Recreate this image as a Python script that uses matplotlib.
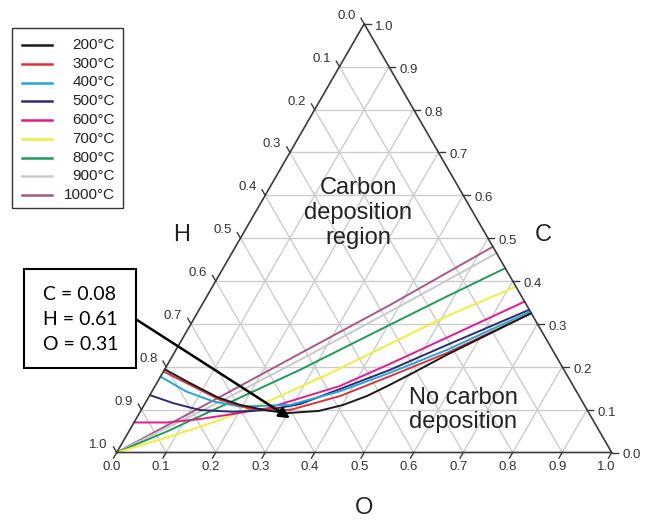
import matplotlib.pyplot as plt
import numpy as np
from matplotlib.patches import Rectangle

plt.rcParams['font.family'] = ['Liberation Sans', 'DejaVu Sans']

# temperature series, each point given as (C, O) fractions; H = 1 - C - O
labels = ['200°C', '300°C', '400°C', '500°C', '600°C', '700°C', '800°C', '900°C', '1000°C']
colors = ['#1a1a1a', '#d8353f', '#22a6d6', '#2e2a78', '#e31b8c', '#f0ee3a', '#1f9a5c', '#c9c9c9', '#a45a88']

c_200 = [0.194, 0.162, 0.128, 0.111, 0.098, 0.092, 0.097, 0.111, 0.132, 0.158, 0.186, 0.228, 0.325]
o_200 = [0.000, 0.067, 0.141, 0.194, 0.254, 0.300, 0.360, 0.402, 0.440, 0.473, 0.506, 0.553, 0.675]
c_300 = [0.189, 0.158, 0.123, 0.102, 0.099, 0.132, 0.178, 0.232, 0.325]
o_300 = [0.000, 0.069, 0.147, 0.218, 0.300, 0.386, 0.463, 0.551, 0.675]
c_400 = [0.177, 0.142, 0.119, 0.107, 0.111, 0.143, 0.186, 0.239, 0.329]
o_400 = [0.000, 0.070, 0.136, 0.196, 0.295, 0.380, 0.459, 0.547, 0.671]
c_500 = [0.134, 0.115, 0.099, 0.095, 0.099, 0.113, 0.148, 0.193, 0.251, 0.333]
o_500 = [0.000, 0.057, 0.119, 0.188, 0.254, 0.314, 0.377, 0.456, 0.542, 0.667]
c_600 = [0.070, 0.070, 0.078, 0.090, 0.103, 0.155, 0.207, 0.268, 0.352]
o_600 = [0.000, 0.066, 0.129, 0.191, 0.252, 0.373, 0.449, 0.533, 0.648]
c_700 = [0.000, 0.035, 0.073, 0.118, 0.179, 0.253, 0.318, 0.387]
o_700 = [0.000, 0.084, 0.165, 0.244, 0.331, 0.425, 0.508, 0.613]
c_800 = [0.000, 0.049, 0.103, 0.193, 0.298, 0.364, 0.430]
o_800 = [0.000, 0.077, 0.151, 0.274, 0.403, 0.485, 0.570]
c_900 = [0.000, 0.118, 0.216, 0.329, 0.465]
o_900 = [0.000, 0.149, 0.262, 0.388, 0.535]
c_1000 = [0.000, 0.130, 0.231, 0.344, 0.480]
o_1000 = [0.000, 0.144, 0.255, 0.380, 0.520]

c_series = [c_200, c_300, c_400, c_500, c_600, c_700, c_800, c_900, c_1000]
o_series = [o_200, o_300, o_400, o_500, o_600, o_700, o_800, o_900, o_1000]

ticks = np.round(np.arange(0, 1.01, 0.1), 1)
marked = {'C': 0.08, 'H': 0.61, 'O': 0.31}

S = np.sqrt(3) / 2
SC = 495.0  # pixels per unit side
X0, Y0 = 116.7, 452.5  # pixel position of the H vertex


def tern(c, o):
    c = np.asarray(c, dtype=float)
    o = np.asarray(o, dtype=float)
    return o + c / 2, c * S


def px(x, y):
    return (x - X0) / SC, (Y0 - y) / SC


fig = plt.figure(figsize=(6.46, 5.24), dpi=100)
ax = fig.add_axes([0, 0, 1, 1])
ax.set_xlim(-X0 / SC, (646 - X0) / SC)
ax.set_ylim((Y0 - 524) / SC, Y0 / SC)
ax.axis('off')

# grid
gcol = '#cccccc'
for v in ticks[1:-1]:
    for (c1, o1), (c2, o2) in [((v, 0), (v, 1 - v)), ((0, v), (1 - v, v)), ((0, 1 - v), (1 - v, 0))]:
        xa, ya = tern([c1, c2], [o1, o2])
        ax.plot(xa, ya, color=gcol, lw=1.0, zorder=1)

# triangle
xa, ya = tern([0, 0, 1, 0], [0, 1, 0, 0])
ax.plot(xa, ya, color='#3a3a3a', lw=1.2, zorder=5)

L = 0.013
tcol = '#333333'
for v in ticks:
    # O axis (bottom)
    x, y = tern(0, v)
    ax.plot([x, x - 0.5 * L], [y, y - S * L], color='#3a3a3a', lw=1.0, zorder=5)
    ax.text(x - 5 / SC, y - 15 / SC, f'{v:.1f}', ha='center', va='center', fontsize=9.5, color=tcol)
    # C axis (right)
    x, y = tern(v, 1 - v)
    ax.plot([x, x + L], [y, y], color='#3a3a3a', lw=1.0, zorder=5)
    ax.text(x + 11 / SC, y - 3 / SC, f'{v:.1f}', ha='left', va='center', fontsize=9.5, color=tcol)
    # H axis (left)
    x, y = tern(1 - v, 0)
    ax.plot([x, x - 0.5 * L], [y, y + S * L], color='#3a3a3a', lw=1.0, zorder=5)
    ax.text(x - 18 / SC, y + 8 / SC, f'{v:.1f}', ha='center', va='center', fontsize=9.5, color=tcol)

# curves
for cs, os_, col in reversed(list(zip(c_series, o_series, colors))):
    x, y = tern(cs, os_)
    ax.plot(x, y, color=col, lw=1.4, zorder=3, solid_capstyle='round', solid_joinstyle='round')

# axis names
ax.text(*px(181.7, 235), 'H', fontsize=17, ha='center', va='center', color='#222222')
ax.text(*px(543.3, 235), 'C', fontsize=17, ha='center', va='center', color='#222222')
ax.text(*px(364, 508), 'O', fontsize=17, ha='center', va='center', color='#222222')

ax.text(*px(358, 213), 'Carbon\ndeposition\nregion', fontsize=17, ha='center', va='center',
        linespacing=1.15, color='#222222', zorder=6)
ax.text(*px(463, 410), 'No carbon\ndeposition', fontsize=17, ha='center', va='center',
        linespacing=1.15, color='#222222', zorder=6)

# legend
lx0, ly0 = px(11.7, 208.3)
lx1, ly1 = px(123, 28.3)
ax.add_patch(Rectangle((lx0, ly0), lx1 - lx0, ly1 - ly0, fill=False, ec='#333333', lw=1.0, zorder=6))
for i, (lab, col) in enumerate(zip(labels, colors)):
    yy = 45 + i * 18.75
    xa0, ya0 = px(21.7, yy)
    xa1, _ = px(51.7, yy)
    ax.plot([xa0, xa1], [ya0, ya0], color=col, lw=1.8, zorder=6)
    ax.text(*px(115, yy), lab, ha='right', va='center', fontsize=11, color='#222222')

# annotation box and arrow
bx0, by0 = px(24, 368.3)
bx1, by1 = px(136, 269.3)
ax.add_patch(Rectangle((bx0, by0), bx1 - bx0, by1 - by0, fc='white', ec='black', lw=1.5, zorder=7))
for j, k in enumerate(['C', 'H', 'O']):
    ax.text(*px(43, 294 + j * 25.5), f'{k} = {marked[k]:.2f}', ha='left', va='center', fontsize=14,
            family=['Lato', 'DejaVu Sans'], color='black', zorder=8)
tip = tern(marked['C'], marked['O'])
ax.annotate('', xy=(float(tip[0]), float(tip[1])), xytext=px(136, 319.3),
            arrowprops=dict(arrowstyle='-|>', lw=1.8, color='black', mutation_scale=16,
                            shrinkA=0, shrinkB=0), zorder=8)

fig.savefig('out.png', dpi=100)
